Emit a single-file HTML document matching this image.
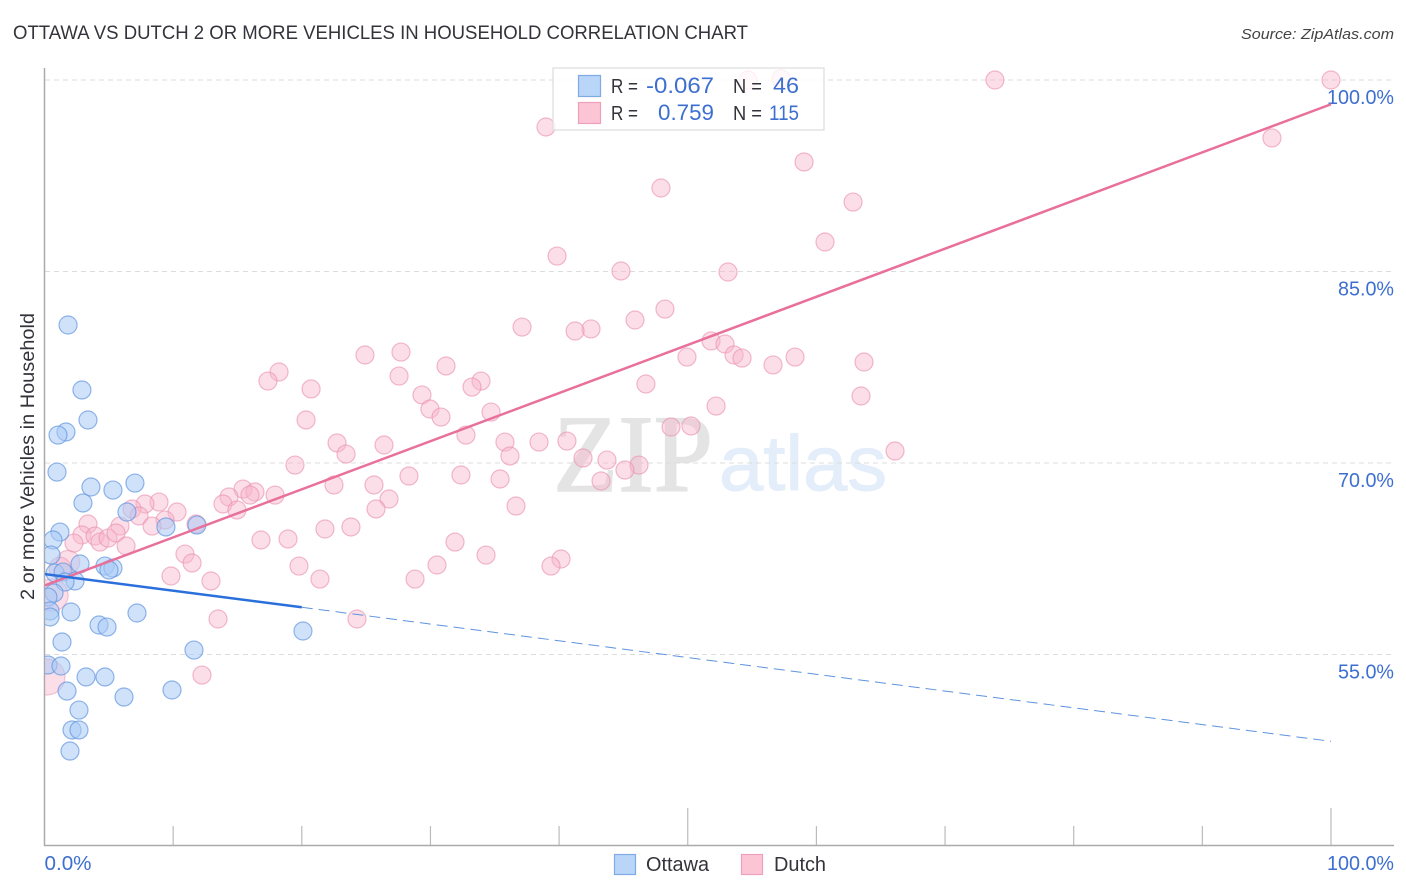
<!DOCTYPE html>
<html lang="en">
<head>
<meta charset="utf-8">
<title>Ottawa vs Dutch 2 or more Vehicles in Household Correlation Chart</title>
<style>
html,body{margin:0;padding:0;background:#fff;}
svg{display:block;font-family:"Liberation Sans",sans-serif;}
</style>
</head>
<body>
<svg id="chart" xmlns="http://www.w3.org/2000/svg" width="1406" height="892" viewBox="0 0 1406 892">
  <defs>
    <clipPath id="plot-clip"><rect x="45" y="50" width="1361" height="795"/></clipPath>
  </defs>
  <rect x="0" y="0" width="1406" height="892" fill="#fff"/>
  <text x="13" y="39" font-size="19" fill="#33333b" textLength="735" lengthAdjust="spacingAndGlyphs">OTTAWA VS DUTCH 2 OR MORE VEHICLES IN HOUSEHOLD CORRELATION CHART</text>
  <text x="1394" y="39" font-size="15" font-style="italic" fill="#444" text-anchor="end" textLength="153" lengthAdjust="spacingAndGlyphs">Source: ZipAtlas.com</text>
  <text transform="translate(34 456.5) rotate(-90)" font-size="19" fill="#33333b" text-anchor="middle" textLength="287" lengthAdjust="spacingAndGlyphs">2 or more Vehicles in Household</text>

  <g>
    <text x="553" y="491" font-family="'Liberation Serif',serif" font-size="110" fill="#e4e4e4" stroke="#e4e4e4" stroke-width="1.5" textLength="160" lengthAdjust="spacingAndGlyphs">ZIP</text>
    <text x="719" y="490" font-size="78" fill="#e4edfa" stroke="#e4edfa" stroke-width="1" textLength="168" lengthAdjust="spacingAndGlyphs">atlas</text>
  </g>

  <g id="grid"></g>
  <g id="x-ticks"></g>
  <line x1="44.5" y1="68" x2="44.5" y2="846" stroke="#aaa" stroke-width="1.5"/>
  <line x1="44" y1="845.5" x2="1394" y2="845.5" stroke="#aaa" stroke-width="1.5"/>
  <g id="y-labels"></g>
  <g id="x-labels"></g>

  <g clip-path="url(#plot-clip)">
    <g id="dutch-points"></g>
    <g id="ottawa-points"></g>
    <g id="trend-lines"></g>
  </g>

  <g>
    <rect x="553" y="68" width="271" height="62" fill="#fff" fill-opacity="0.8" stroke="#ddd" stroke-width="1.2"/>
    <rect x="578.5" y="75.5" width="22" height="21" fill="#b9d5f8" stroke="#7fabe5" stroke-width="1.2"/>
    <rect x="578.5" y="102.5" width="22" height="21" fill="#fcc5d6" stroke="#eda0ba" stroke-width="1.2"/>
    <text x="611" y="93" font-size="20" fill="#33333b" textLength="27" lengthAdjust="spacingAndGlyphs">R =</text>
    <text x="646" y="93" font-size="22" fill="#3d6fd1" textLength="68" lengthAdjust="spacingAndGlyphs">-0.067</text>
    <text x="733" y="93" font-size="20" fill="#33333b" textLength="29" lengthAdjust="spacingAndGlyphs">N =</text>
    <text x="773" y="93" font-size="22" fill="#3d6fd1" textLength="26" lengthAdjust="spacingAndGlyphs">46</text>
    <text x="611" y="120" font-size="20" fill="#33333b" textLength="27" lengthAdjust="spacingAndGlyphs">R =</text>
    <text x="658" y="120" font-size="22" fill="#3d6fd1" textLength="56" lengthAdjust="spacingAndGlyphs">0.759</text>
    <text x="733" y="120" font-size="20" fill="#33333b" textLength="29" lengthAdjust="spacingAndGlyphs">N =</text>
    <text x="769" y="120" font-size="21" fill="#3d6fd1" textLength="30" lengthAdjust="spacingAndGlyphs">115</text>
  </g>

  <g>
    <rect x="614.5" y="854.5" width="21" height="20" fill="#b9d5f8" stroke="#7fabe5" stroke-width="1.2"/>
    <text x="646" y="871" font-size="20" fill="#33333b" textLength="63" lengthAdjust="spacingAndGlyphs">Ottawa</text>
    <rect x="741.5" y="854.5" width="21" height="20" fill="#fcc5d6" stroke="#eda0ba" stroke-width="1.2"/>
    <text x="774" y="871" font-size="20" fill="#33333b" textLength="52" lengthAdjust="spacingAndGlyphs">Dutch</text>
  </g>
</svg>
<script>
const xTickValues = [0, 10, 20, 30, 40, 50, 60, 70, 80, 90, 100];
const xMajorTicks = [50, 100];
const xLabelValues = ["0.0%", "100.0%"];
const yTickValues = [100, 85, 70, 55];
const yTickLabels = ["100.0%", "85.0%", "70.0%", "55.0%"];

const ottawaX = [1.83,2.91,3.38,1.67,1.05,0.97,3.61,5.32,7.03,2.99,6.41,1.20,0.66,9.44,11.85,0.51,2.76,4.70,5.32,5.01,0.82,1.44,2.37,1.59,0.74,0.27,7.19,2.06,0.43,0.43,4.24,4.86,20.09,1.36,11.62,0.27,1.28,3.23,4.70,1.75,6.18,9.91,2.68,2.14,2.68,1.98];
const ottawaY = [80.81,75.72,73.37,72.43,72.19,69.29,68.12,67.88,68.43,66.87,66.16,64.59,63.97,64.99,65.14,62.79,62.09,61.93,61.77,61.62,61.38,61.46,60.76,60.68,59.82,59.5,58.25,58.33,58.41,57.94,57.31,57.15,56.84,55.98,55.35,54.18,54.10,53.24,53.24,52.14,51.67,52.22,50.65,49.09,49.09,47.44];

const dutchX = [100,73.88,54.68,57.25,38.98,95.41,59.04,47.92,62.85,60.67,39.84,44.81,53.13,48.23,45.9,37.12,42.48,41.24,51.81,52.9,27.71,24.91,49.94,53.6,54.22,58.34,56.63,63.7,31.21,18.23,17.37,27.56,46.75,33.93,33.23,20.72,29.34,63.47,52.2,29.96,30.82,34.71,20.33,48.7,50.25,32.76,22.74,26.39,23.44,35.79,38.44,40.61,36.18,41.86,43.72,46.21,45.12,66.11,19.47,32.37,28.33,35.41,43.26,22.5,25.61,26.78,15.43,16.36,14.34,17.92,15.97,13.87,14.96,25.77,36.65,8.9,7.81,10.3,6.8,7.35,9.37,11.78,8.36,5.87,3.38,21.8,23.82,16.83,18.93,2.91,3.93,4.31,4.94,5.56,2.29,6.34,31.91,10.92,34.32,40.15,19.78,11.47,30.51,39.37,9.83,21.41,28.8,12.94,24.29,13.49,12.24];
const dutchY = [100,100,100,100.1,96.32,95.46,93.58,91.54,90.44,87.31,86.21,85.04,84.96,82.06,81.2,80.65,80.5,80.34,79.56,79.32,78.69,78.46,78.3,78.46,78.22,78.3,77.68,77.91,77.6,77.13,76.42,76.81,76.19,76.42,75.95,75.8,75.33,75.25,74.46,74.23,73.6,73.99,73.37,72.82,72.9,72.19,71.57,71.41,70.7,71.64,71.64,71.72,70.55,70.39,70.23,69.84,69.45,70.94,69.84,69.06,68.98,68.75,68.59,68.28,68.28,67.18,67.96,67.73,67.34,67.49,67.49,66.79,66.32,66.4,66.63,66.94,66.79,66.16,66.4,65.85,65.53,65.22,65.06,65.06,65.22,64.83,64.99,63.97,64.05,64.36,64.28,63.81,64.12,64.52,63.73,63.5,63.81,62.87,62.79,62.48,61.93,62.17,62.01,61.93,61.15,60.91,60.91,60.76,57.78,57.78,53.39];

const dutchLargeX = [0.19, 0.58, 1.83, 1.2];
const dutchLargeY = [53.24, 59.66, 62.24, 61.77];
const dutchLargeWeight = [4, 3.6, 2.6, 2.4];

const ottawaTrendX = [0, 20];
const ottawaTrendY = [61.3, 58.7];
const ottawaProjectionX = [20, 100];
const ottawaProjectionY = [58.7, 48.2];
const dutchTrendX = [0, 100];
const dutchTrendY = [60.4, 98.1];

const NS = "http://www.w3.org/2000/svg";
function xScale(v) { return 44.5 + v * 12.865; }
function yScale(v) { return 80 + (100 - v) * 12.767; }
function radius(w) { return 4.5 * w; }
function make(parentId, tag, attrs, content) {
  const el = document.createElementNS(NS, tag);
  for (const k in attrs) el.setAttribute(k, attrs[k]);
  if (content !== undefined) el.textContent = content;
  document.getElementById(parentId).appendChild(el);
  return el;
}

yTickValues.forEach(function (v, i) {
  const grid = make("grid", "line", { x1: 45, x2: 1394, y1: yScale(v), y2: yScale(v), stroke: "#dcdcdc", "stroke-width": 1, "stroke-dasharray": "5 4" });
  
  
  const label = make("y-labels", "text", { x: 1394, y: yScale(v) + 24, "font-size": 20, fill: "#3d6fd1", "text-anchor": "end", textLength: i === 0 ? 67 : 56, lengthAdjust: "spacingAndGlyphs" }, yTickLabels[i]);
  
  
});

xTickValues.forEach(function (v) {
  const top = xMajorTicks.indexOf(v) >= 0 ? 808 : 826;
  if (v === 0) return;
  const tick = make("x-ticks", "line", { x1: xScale(v), x2: xScale(v), y1: top, y2: 846, stroke: "#bbb", "stroke-width": 1.2 });
  
  
});

const xLabelLeft = make("x-labels", "text", { x: xScale(0), y: 870, "font-size": 20, fill: "#3d6fd1", textLength: 47, lengthAdjust: "spacingAndGlyphs" }, xLabelValues[0]);


const xLabelRight = make("x-labels", "text", { x: 1394, y: 870, "font-size": 20, fill: "#3d6fd1", "text-anchor": "end", textLength: 67, lengthAdjust: "spacingAndGlyphs" }, xLabelValues[1]);



dutchLargeX.forEach(function (v, i) {
  const c = make("dutch-points", "circle", { cx: xScale(v), cy: yScale(dutchLargeY[i]), r: radius(dutchLargeWeight[i]), fill: "#f9b6cb", "fill-opacity": 0.45, stroke: "#e88fae", "stroke-opacity": 0.5, "stroke-width": 1.2 });
  
  
});
dutchX.forEach(function (v, i) {
  const c = make("dutch-points", "circle", { cx: xScale(v), cy: yScale(dutchY[i]), r: radius(2), fill: "#f9b6cb", "fill-opacity": 0.45, stroke: "#e88fae", "stroke-opacity": 0.62, "stroke-width": 1.2 });
  
  
});
ottawaX.forEach(function (v, i) {
  const c = make("ottawa-points", "circle", { cx: xScale(v), cy: yScale(ottawaY[i]), r: radius(2), fill: "#a9cbf5", "fill-opacity": 0.55, stroke: "#5e93de", "stroke-opacity": 0.68, "stroke-width": 1.2 });
  
  
});

const dutchLine = make("trend-lines", "line", { x1: xScale(dutchTrendX[0]), y1: yScale(dutchTrendY[0]), x2: xScale(dutchTrendX[1]), y2: yScale(dutchTrendY[1]), stroke: "#e8709b", "stroke-width": 2.5 });


const ottawaDash = make("trend-lines", "line", { x1: xScale(ottawaProjectionX[0]), y1: yScale(ottawaProjectionY[0]), x2: xScale(ottawaProjectionX[1]), y2: yScale(ottawaProjectionY[1]), stroke: "#5e93de", "stroke-width": 1, "stroke-dasharray": "11 6" });


const ottawaLine = make("trend-lines", "line", { x1: xScale(ottawaTrendX[0]), y1: yScale(ottawaTrendY[0]), x2: xScale(ottawaTrendX[1]), y2: yScale(ottawaTrendY[1]), stroke: "#2a6fdb", "stroke-width": 2.5 });


</script>
</body>
</html>
